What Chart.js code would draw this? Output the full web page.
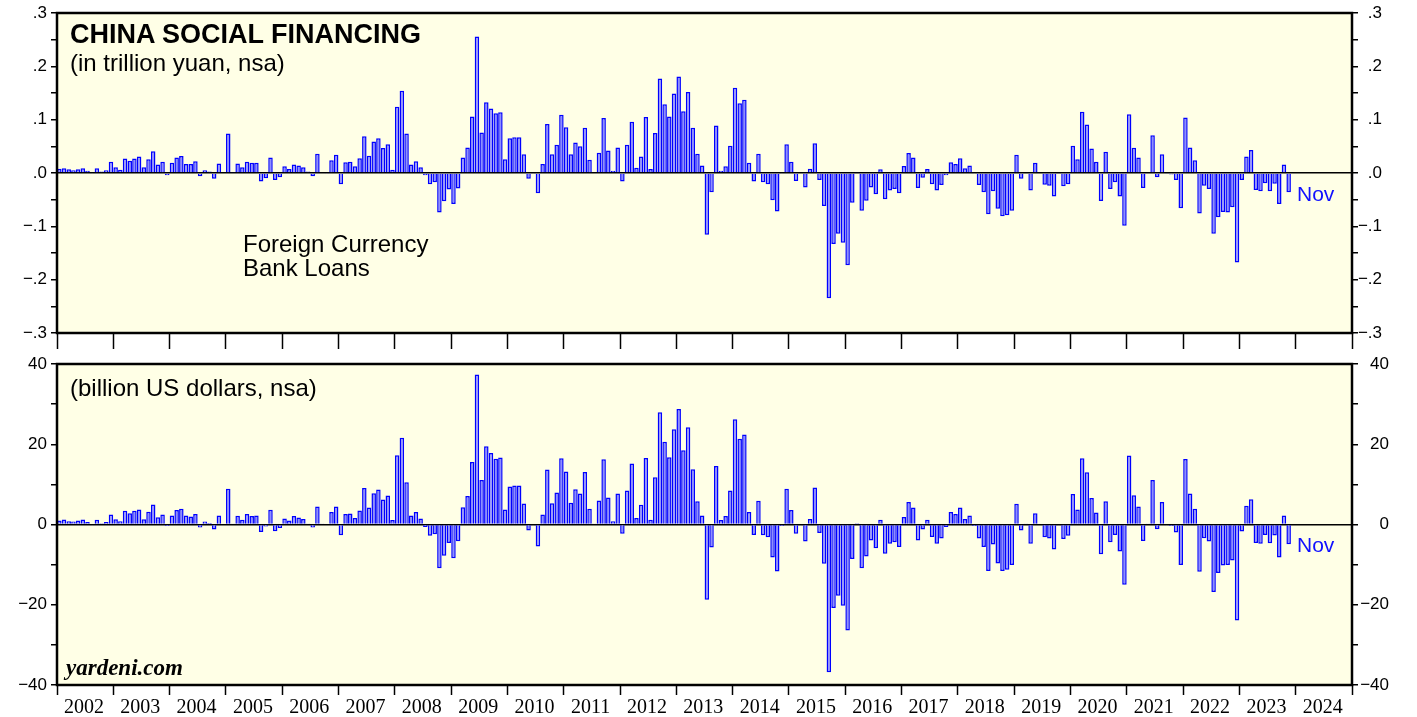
<!DOCTYPE html>
<html>
<head>
<meta charset="utf-8">
<script src="https://cdn.jsdelivr.net/npm/chart.js@4.4.0/dist/chart.umd.min.js"></script>
<style>
  body { margin: 0; background: #fff; width: 1417px; height: 717px; overflow: hidden; position: relative;
         font-family: Arial, "Liberation Sans", Helvetica, sans-serif; }
  canvas { position: absolute; left: 0; }
  #graficoArriba { top: 0; }
  #graficoAbajo { top: 350px; }
  .txt { position: absolute; white-space: nowrap; line-height: 1; color: #000; z-index: 2; }
  .nov { color: #1010ff; font-size: 21px; }
</style>
</head>
<body>
<canvas id="graficoArriba" width="1417" height="350"></canvas>
<canvas id="graficoAbajo" width="1417" height="367"></canvas>

<div class="txt" style="left:70px;top:21px;font-size:27px;font-weight:bold;">CHINA SOCIAL FINANCING</div>
<div class="txt" style="left:70px;top:51px;font-size:24px;">(in trillion yuan, nsa)</div>
<div class="txt" style="left:243px;top:232px;font-size:24px;">Foreign Currency</div>
<div class="txt" style="left:243px;top:256px;font-size:24px;">Bank Loans</div>
<div class="txt nov" style="left:1297px;top:183px;">Nov</div>
<div class="txt" style="left:70px;top:376px;font-size:24px;">(billion US dollars, nsa)</div>
<div class="txt nov" style="left:1297px;top:534px;">Nov</div>
<div class="txt" style="left:66px;top:656px;font-size:23px;font-weight:bold;font-style:italic;font-family:'Liberation Serif','Times New Roman',serif;">yardeni.com</div>

<script>
// Años del eje X (etiquetas entre marcas)
const anios = [2002, 2003, 2004, 2005, 2006, 2007, 2008, 2009, 2010, 2011, 2012, 2013,
               2014, 2015, 2016, 2017, 2018, 2019, 2020, 2021, 2022, 2023, 2024];

// Préstamos bancarios en moneda extranjera, billones de yuanes (ene 2002 - nov 2023)
const prestamosYuan = [
  0.008, 0.009, 0.007, 0.005, 0.007, 0.009, 0.004, -0.002, 0.009, 0.003, 0.005, 0.021,
  0.011, 0.006, 0.027, 0.023, 0.027, 0.031, 0.011, 0.026, 0.041, 0.016, 0.021, -0.004,
  0.019, 0.029, 0.032, 0.017, 0.017, 0.022, -0.006, 0.005, 0.003, -0.011, 0.018, 0.000,
  0.074, 0.001, 0.018, 0.011, 0.021, 0.019, 0.019, -0.016, -0.010, 0.029, -0.013, -0.008,
  0.0125, 0.0075, 0.016, 0.014, 0.011, 0.003, -0.006, 0.036, 0.000, -0.002, 0.024, 0.034,
  -0.021, 0.020, 0.021, 0.0125, 0.0275, 0.069, 0.0325, 0.059, 0.065, 0.047, 0.054, 0.006,
  0.124, 0.154, 0.074, 0.016, 0.022, 0.011, -0.004, -0.021, -0.0175, -0.074, -0.053, -0.031,
  -0.058, -0.029, 0.029, 0.048, 0.106, 0.256, 0.076, 0.1325, 0.121, 0.112, 0.114, 0.026,
  0.065, 0.067, 0.067, 0.035, -0.011, -0.002, -0.038, 0.017, 0.092, 0.035, 0.053, 0.109,
  0.086, 0.035, 0.057, 0.050, 0.085, 0.025, 0.000, 0.038, 0.103, 0.042, 0.004, 0.048,
  -0.016, 0.053, 0.096, 0.010, 0.031, 0.105, 0.0075, 0.075, 0.177, 0.129, 0.106, 0.149,
  0.181, 0.116, 0.152, 0.085, 0.036, 0.014, -0.116, -0.036, 0.089, 0.004, 0.0125, 0.051,
  0.160, 0.131, 0.1375, 0.019, -0.016, 0.036, -0.0175, -0.021, -0.051, -0.072, -0.002, 0.054,
  0.021, -0.015, 0.000, -0.027, 0.008, 0.056, -0.013, -0.062, -0.235, -0.133, -0.114, -0.131,
  -0.173, -0.056, 0.001, -0.071, -0.052, -0.027, -0.040, 0.007, -0.049, -0.033, -0.030, -0.038,
  0.013, 0.0375, 0.029, -0.028, -0.009, 0.0075, -0.021, -0.033, -0.0225, -0.004, 0.020, 0.017,
  0.0275, 0.009, 0.014, -0.002, -0.0225, -0.036, -0.0775, -0.034, -0.067, -0.081, -0.079, -0.071,
  0.034, -0.011, 0.000, -0.033, 0.019, 0.000, -0.022, -0.024, -0.044, -0.001, -0.025, -0.021,
  0.051, 0.026, 0.115, 0.091, 0.046, 0.021, -0.0525, 0.040, -0.030, -0.0175, -0.044, -0.099,
  0.110, 0.0475, 0.029, -0.028, 0.000, 0.071, -0.008, 0.035, -0.001, -0.003, -0.013, -0.066,
  0.104, 0.048, 0.024, -0.076, -0.024, -0.030, -0.114, -0.083, -0.073, -0.074, -0.064, -0.168,
  -0.013, 0.031, 0.043, -0.032, -0.034, -0.019, -0.034, -0.020, -0.058, 0.016, -0.036
];

// Los mismos préstamos en miles de millones de dólares
const prestamosUsd = [
  1.0, 1.25, 0.8, 0.75, 1.0, 1.25, 0.6, -0.25, 1.2, 0.3, 0.6, 2.5,
  1.3, 0.8, 3.4, 2.8, 3.4, 3.75, 1.3, 3.2, 5.0, 1.8, 2.5, -0.4,
  2.25, 3.6, 3.9, 2.25, 2.0, 2.6, -0.75, 0.75, 0.4, -1.25, 2.25, 0.0,
  8.9, 0.1, 2.2, 1.2, 2.6, 2.1, 2.25, -1.9, -0.5, 3.7, -1.7, -0.9,
  1.5, 1.0, 2.1, 1.75, 1.4, 0.25, -0.75, 4.5, 0.25, -0.2, 3.1, 4.5,
  -2.7, 2.6, 2.75, 1.6, 3.5, 9.1, 4.25, 7.8, 8.75, 6.2, 7.25, 1.1,
  17.25, 21.6, 10.5, 2.25, 3.1, 1.5, -0.6, -2.8, -2.4, -10.9, -7.8, -4.6,
  -8.4, -4.2, 4.3, 7.1, 15.6, 37.4, 11.1, 19.5, 17.8, 16.4, 16.7, 3.75,
  9.5, 9.75, 9.75, 5.25, -1.5, -0.25, -5.5, 2.5, 13.7, 5.3, 8.0, 16.5,
  13.2, 5.4, 8.8, 7.7, 13.1, 3.9, 0.25, 6.0, 16.25, 6.7, 0.8, 7.75,
  -2.3, 8.5, 15.2, 1.6, 4.9, 16.6, 1.2, 11.8, 28.0, 20.6, 16.75, 23.75,
  28.8, 18.5, 24.25, 13.75, 5.8, 2.25, -18.75, -5.75, 14.6, 1.1, 2.1, 8.5,
  26.25, 21.4, 22.4, 3.1, -2.6, 5.9, -2.7, -3.2, -8.2, -11.7, -0.4, 8.9,
  3.6, -2.3, -0.1, -4.25, 1.4, 9.25, -2.1, -9.8, -36.8, -20.8, -17.75, -20.25,
  -26.4, -8.6, 0.3, -10.9, -8.0, -4.0, -5.9, 1.2, -7.3, -4.8, -4.4, -5.6,
  1.9, 5.6, 4.25, -4.0, -1.25, 1.2, -3.1, -4.8, -3.5, -0.6, 3.1, 2.6,
  4.25, 1.4, 2.25, -0.4, -3.5, -5.6, -11.6, -5.0, -9.75, -11.6, -11.3, -10.1,
  5.2, -1.5, 0.25, -4.8, 2.8, 0.0, -3.2, -3.5, -6.2, -0.1, -3.6, -2.8,
  7.6, 3.75, 16.5, 13.0, 6.6, 3.0, -7.4, 5.8, -4.4, -2.6, -6.7, -15.0,
  17.2, 7.3, 4.5, -4.1, 0.25, 11.1, -1.2, 5.6, -0.25, -0.4, -2.0, -10.1,
  16.3, 7.75, 3.9, -11.8, -3.4, -4.25, -16.8, -12.1, -10.2, -10.1, -9.0, -23.9,
  -1.75, 4.7, 6.3, -4.6, -4.8, -2.6, -4.7, -2.75, -8.2, 2.25, -4.9
];

// Una categoría por mes, de ene 2002 a dic 2024 (los meses sin dato quedan vacíos)
const meses = [];
anios.forEach(a => { for (let m = 1; m <= 12; m++) meses.push(a + '-' + (m < 10 ? '0' : '') + m); });

const FONDO = '#ffffe6';
const fuenteEje = { family: 'Arial, "Liberation Sans", sans-serif', size: 17, lineHeight: 1 };

// Fondo amarillo y marco negro del área de trazado
const marcoPlugin = {
  id: 'marco',
  beforeDraw(chart) {
    const a = chart.chartArea, c = chart.ctx;
    c.save();
    c.fillStyle = FONDO;
    c.fillRect(a.left, a.top, a.right - a.left, a.bottom - a.top);
    c.restore();
  },
  afterDraw(chart) {
    const a = chart.chartArea, c = chart.ctx;
    c.save();
    c.strokeStyle = '#000';
    c.lineWidth = 2.5;
    c.strokeRect(a.left, a.top, a.right - a.left, a.bottom - a.top);
    c.restore();
  }
};

// anchoDer: ancho del eje derecho (sus etiquetas se alinean a la derecha en su borde)
function crearGrafico(id, datos, min, max, paso, etiqueta, padTop, altoX, largoMarca, mostrarAnios, anchoDer) {
  const lineaCero = ctx => (ctx.tick && Math.abs(ctx.tick.value) < 1e-9) ? '#000' : 'rgba(0,0,0,0)';
  const ejeY = (pos, ancho) => ({
    type: 'linear',
    position: pos,
    min: min,
    max: max,
    afterFit: s => { s.width = ancho; },
    border: { display: false },
    grid: {
      drawOnChartArea: pos === 'left',
      color: lineaCero,
      lineWidth: 1.5,
      tickColor: '#000',
      tickLength: 6,
      tickWidth: 1.5
    },
    ticks: {
      stepSize: paso,
      color: '#000',
      font: fuenteEje,
      padding: 4,
      crossAlign: pos === 'right' ? 'far' : 'near',
      callback: etiqueta
    }
  });

  new Chart(document.getElementById(id), {
    type: 'bar',
    data: {
      labels: meses,
      datasets: [{
        data: datos,
        backgroundColor: '#8e8eff',
        borderColor: '#0000ff',
        borderWidth: 1.5,
        barPercentage: 0.96,
        categoryPercentage: 1.0
      }]
    },
    options: {
      responsive: false,
      animation: false,
      events: [],
      layout: { padding: { top: padTop, left: 0, right: 65 - anchoDer, bottom: 0 } },
      plugins: { legend: { display: false }, tooltip: { enabled: false } },
      scales: {
        x: { display: false },
        anios: {
          type: 'linear',
          position: 'bottom',
          offset: false,
          min: 2002,
          max: 2025,
          afterFit: s => { s.height = altoX; },
          border: { display: false },
          grid: { drawOnChartArea: false, offset: false, tickColor: '#000', tickLength: largoMarca, tickWidth: 1.5 },
          ticks: {
            stepSize: 1,
            autoSkip: false,
            maxRotation: 0,
            labelOffset: 27,
            padding: 3,
            color: '#000',
            font: { family: '"Liberation Serif", "Times New Roman", serif', size: 20, lineHeight: 1 },
            callback: v => (mostrarAnios && v < 2025) ? String(v) : ''
          }
        },
        y: ejeY('left', 57),
        y2: ejeY('right', anchoDer)
      }
    },
    plugins: [marcoPlugin]
  });
}

document.addEventListener('DOMContentLoaded', () => {
  // Panel superior: billones de yuanes (etiquetas estilo ".1", "−.1")
  crearGrafico('graficoArriba', prestamosYuan, -0.3, 0.3, 0.05, v => {
    const r = Math.round(v * 100);
    if (r % 10 !== 0) return '';
    return (r < 0 ? '\u2212' : '') + '.' + Math.abs(r / 10);
  }, 13, 17, 16, false, 30);

  // Panel inferior: miles de millones de dólares
  crearGrafico('graficoAbajo', prestamosUsd, -40, 40, 10, v => {
    const r = Math.round(v);
    if (r % 20 !== 0) return '';
    return (r < 0 ? '\u2212' : '') + Math.abs(r);
  }, 14, 32, 10, true, 37);
});
</script>
</body>
</html>
